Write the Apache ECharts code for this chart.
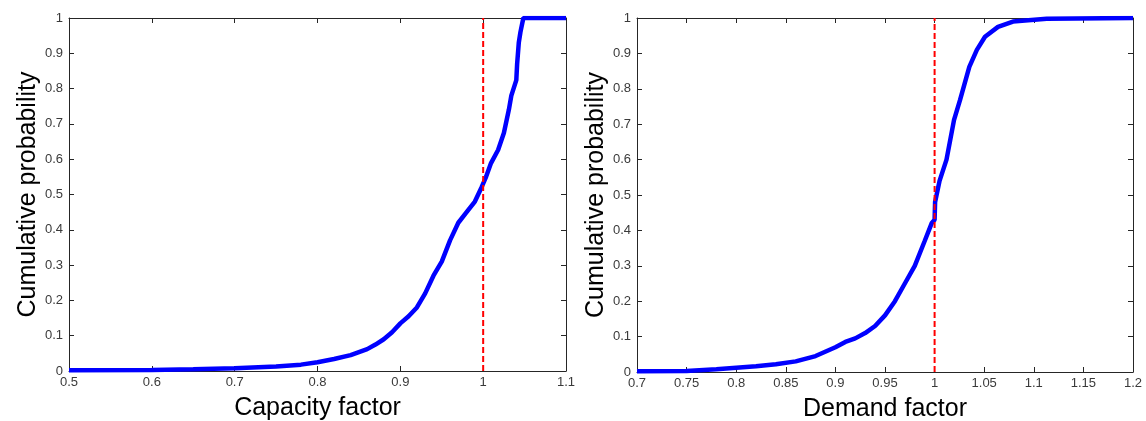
<!DOCTYPE html>
<html>
<head>
<meta charset="utf-8">
<script src="https://cdn.jsdelivr.net/npm/echarts@6/dist/echarts.min.js"></script>
<style>
html,body{margin:0;padding:0;background:#fff;}
#chart{width:1146px;height:421px;}
</style>
</head>
<body>
<div id="chart"></div>
<script>
// Left panel: capacity factor CDF
const capX = [0.5, 0.6, 0.65, 0.7, 0.75, 0.78, 0.8, 0.82, 0.84, 0.86, 0.87, 0.88, 0.89, 0.9, 0.91, 0.92, 0.93, 0.94, 0.95, 0.96, 0.97, 0.98, 0.99, 0.998, 1.0035, 1.0095, 1.018, 1.025, 1.031, 1.034, 1.040, 1.041, 1.043, 1.045, 1.0485, 1.1];
const capP = [0.002, 0.003, 0.005, 0.008, 0.013, 0.018, 0.025, 0.034, 0.045, 0.062, 0.075, 0.09, 0.11, 0.135, 0.155, 0.18, 0.22, 0.27, 0.31, 0.37, 0.42, 0.45, 0.48, 0.52, 0.55, 0.589, 0.626, 0.674, 0.74, 0.78, 0.824, 0.87, 0.93, 0.96, 1.0, 1.0];
// Right panel: demand factor CDF
const demX = [0.7, 0.75, 0.78, 0.8, 0.82, 0.84, 0.86, 0.88, 0.9, 0.91, 0.92, 0.93, 0.94, 0.95, 0.96, 0.97, 0.98, 0.99, 0.997, 1.0, 1.0005, 1.005, 1.012, 1.0196, 1.0256, 1.035, 1.0426, 1.0508, 1.0639, 1.079, 1.113, 1.2];
const demP = [0.002, 0.003, 0.008, 0.012, 0.016, 0.022, 0.03, 0.045, 0.07, 0.085, 0.095, 0.11, 0.13, 0.16, 0.2, 0.25, 0.3, 0.37, 0.42, 0.43, 0.48, 0.54, 0.6, 0.712, 0.768, 0.862, 0.91, 0.947, 0.975, 0.99, 0.998, 1.0];
const capTicks = {min: 0.5, max: 1.1, interval: 0.1};
const demTicks = {min: 0.7, max: 1.2, interval: 0.05};
const probTicks = {min: 0, max: 1, interval: 0.1};
const refX = 1;
const xNames = ['Capacity factor', 'Demand factor'];
const yName = 'Cumulative probability';

const chart = echarts.init(document.getElementById('chart'), null, {renderer: 'canvas'});
const axisColor = '#262626';
const fmt = v => String(+(+v).toFixed(2));
function xAx(gi, t, name, pos) {
  const main = pos === 'bottom';
  return {
    type: 'value', gridIndex: gi, position: pos, min: t.min, max: t.max, interval: t.interval,
    name: main ? name : '', nameLocation: 'middle', nameGap: 25,
    nameTextStyle: {fontFamily: 'Liberation Sans', fontSize: 25, color: '#000'},
    axisLine: {show: true, onZero: false, lineStyle: {color: axisColor, width: 1}},
    axisTick: {show: true, inside: true, length: 5, lineStyle: {color: axisColor}},
    axisLabel: {show: main, formatter: fmt, fontFamily: 'Liberation Sans', fontSize: 13, color: '#3a3a3a', margin: 5},
    splitLine: {show: false}
  };
}
function yAx(gi, pos) {
  const main = pos === 'left';
  return {
    type: 'value', gridIndex: gi, position: pos, min: probTicks.min, max: probTicks.max, interval: probTicks.interval,
    name: main ? yName : '', nameLocation: 'middle', nameGap: 28,
    nameTextStyle: {fontFamily: 'Liberation Sans', fontSize: 25, color: '#000'},
    axisLine: {show: true, onZero: false, lineStyle: {color: axisColor, width: 1}},
    axisTick: {show: true, inside: true, length: 5, lineStyle: {color: axisColor}},
    axisLabel: {show: main, formatter: fmt, fontFamily: 'Liberation Sans', fontSize: 13, color: '#3a3a3a', margin: 6},
    splitLine: {show: false}
  };
}
const zip = (a, b) => a.map((v, i) => [v, b[i]]);
chart.setOption({
  animation: false,
  backgroundColor: '#fff',
  grid: [
    {left: 69, top: 18, width: 497, height: 353, outerBoundsMode: 'none', containLabel: false},
    {left: 637, top: 18, width: 496, height: 354, outerBoundsMode: 'none', containLabel: false}
  ],
  xAxis: [
    xAx(0, capTicks, xNames[0], 'bottom'), xAx(0, capTicks, '', 'top'),
    xAx(1, demTicks, xNames[1], 'bottom'), xAx(1, demTicks, '', 'top')
  ],
  yAxis: [
    yAx(0, 'left'), yAx(0, 'right'), yAx(1, 'left'), yAx(1, 'right')
  ],
  series: [
    {type: 'line', xAxisIndex: 0, yAxisIndex: 0, data: zip(capX, capP), showSymbol: false, lineStyle: {color: '#0000ff', width: 4.5}, z: 3},
    {type: 'line', xAxisIndex: 0, yAxisIndex: 0, data: [[refX, 0], [refX, 1]], showSymbol: false, lineStyle: {color: '#ff0000', width: 2, type: [6, 3]}, z: 4},
    {type: 'line', xAxisIndex: 2, yAxisIndex: 2, data: zip(demX, demP), showSymbol: false, lineStyle: {color: '#0000ff', width: 4.5}, z: 3},
    {type: 'line', xAxisIndex: 2, yAxisIndex: 2, data: [[refX, 0], [refX, 1]], showSymbol: false, lineStyle: {color: '#ff0000', width: 2, type: [6, 3]}, z: 4}
  ]
});
</script>
</body>
</html>
